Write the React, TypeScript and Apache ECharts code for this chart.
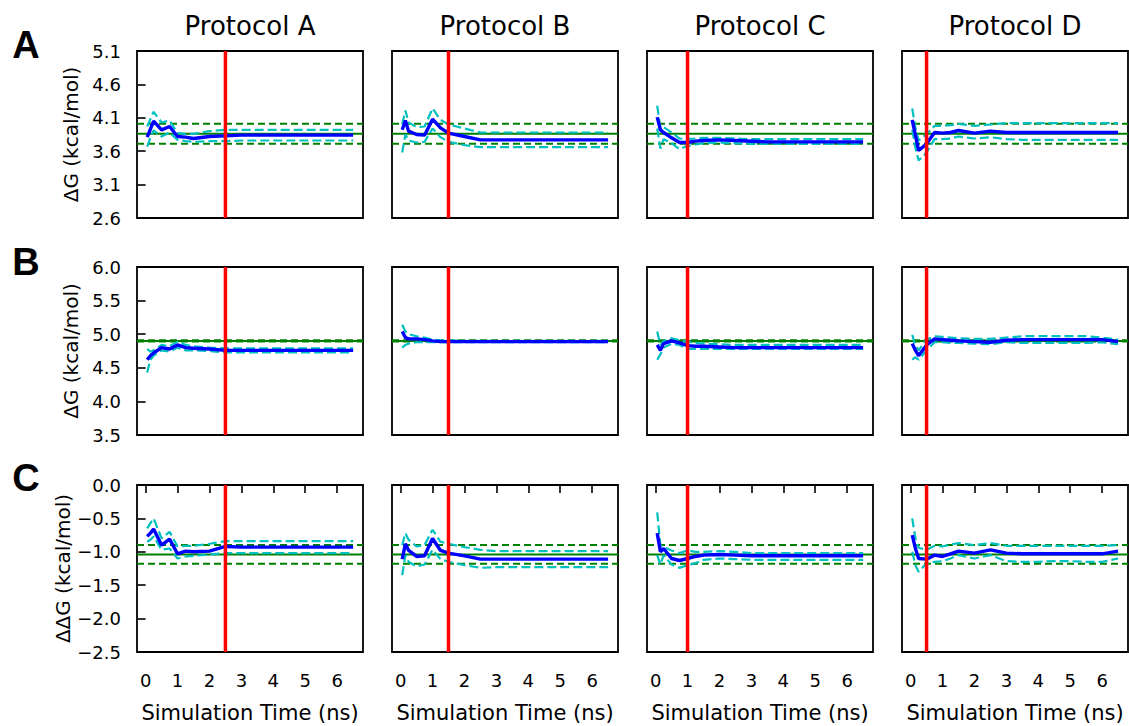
import React, { useEffect, useRef } from "react";
import * as echarts from "echarts";

// ---------- data ----------
const times = [0.05, 0.15, 0.25, 0.5, 0.75, 1.0, 1.25, 1.5, 2.0, 2.5, 3.0, 3.5, 4.0, 4.5, 5.0, 5.5, 6.0, 6.5];
const protocols = ["Protocol A", "Protocol B", "Protocol C", "Protocol D"];
const cutoffs = [2.5, 1.5, 1.0, 0.5];
const rowLetters = ["A", "B", "C"];
const rowYLabels = ["ΔG (kcal/mol)", "ΔG (kcal/mol)", "ΔΔG (kcal/mol)"];
const yTicksA = [2.6, 3.1, 3.6, 4.1, 4.6, 5.1];
const yTicksB = [3.5, 4.0, 4.5, 5.0, 5.5, 6.0];
const yTicksC = [-2.5, -2.0, -1.5, -1.0, -0.5, 0.0];
const xTicks = [0, 1, 2, 3, 4, 5, 6];
const exptValues = [3.86, 4.9, -1.04];
const exptErrors = [0.15, 0.01, 0.14];

// Row A (ΔG, first ligand)
const meanA1 = [3.81, 3.93, 4.05, 3.92, 3.97, 3.82, 3.81, 3.79, 3.82, 3.83, 3.84, 3.84, 3.84, 3.84, 3.84, 3.84, 3.84, 3.84];
const upA1 = [3.97, 4.08, 4.19, 4.03, 4.06, 3.87, 3.86, 3.86, 3.90, 3.92, 3.92, 3.92, 3.92, 3.92, 3.92, 3.92, 3.92, 3.92];
const loA1 = [3.67, 3.80, 3.91, 3.82, 3.88, 3.77, 3.75, 3.74, 3.75, 3.75, 3.76, 3.76, 3.76, 3.76, 3.76, 3.76, 3.76, 3.76];
const meanA2 = [3.92, 4.06, 3.90, 3.85, 3.84, 4.08, 3.95, 3.87, 3.82, 3.77, 3.77, 3.77, 3.77, 3.77, 3.77, 3.77, 3.77, 3.77];
const upA2 = [4.00, 4.21, 4.03, 3.96, 3.97, 4.24, 4.07, 4.00, 3.94, 3.88, 3.88, 3.88, 3.88, 3.88, 3.88, 3.88, 3.88, 3.88];
const loA2 = [3.58, 3.85, 3.76, 3.73, 3.74, 3.94, 3.81, 3.74, 3.69, 3.66, 3.66, 3.66, 3.66, 3.66, 3.66, 3.66, 3.66, 3.66];
const meanA3 = [4.11, 3.92, 3.88, 3.80, 3.73, 3.73, 3.75, 3.76, 3.77, 3.76, 3.75, 3.74, 3.74, 3.74, 3.74, 3.74, 3.74, 3.74];
const upA3 = [4.28, 3.95, 3.96, 3.88, 3.79, 3.78, 3.79, 3.80, 3.80, 3.79, 3.78, 3.78, 3.78, 3.78, 3.78, 3.78, 3.78, 3.78];
const loA3 = [3.94, 3.64, 3.78, 3.72, 3.63, 3.68, 3.70, 3.72, 3.73, 3.72, 3.71, 3.71, 3.71, 3.71, 3.71, 3.71, 3.71, 3.71];
const meanA4 = [4.07, 3.84, 3.61, 3.71, 3.88, 3.87, 3.88, 3.91, 3.87, 3.90, 3.88, 3.88, 3.88, 3.88, 3.88, 3.88, 3.88, 3.88];
const upA4 = [4.24, 3.95, 3.76, 3.85, 3.98, 3.98, 3.99, 4.01, 3.98, 4.00, 4.02, 4.02, 4.02, 4.02, 4.02, 4.02, 4.02, 4.02];
const loA4 = [3.92, 3.65, 3.46, 3.58, 3.78, 3.78, 3.79, 3.82, 3.79, 3.81, 3.78, 3.77, 3.77, 3.77, 3.77, 3.77, 3.77, 3.77];

// Row B (ΔG, second ligand)
const meanB1 = [4.62, 4.68, 4.72, 4.80, 4.78, 4.84, 4.80, 4.79, 4.78, 4.76, 4.76, 4.76, 4.76, 4.76, 4.76, 4.76, 4.76, 4.76];
const upB1 = [4.78, 4.74, 4.76, 4.84, 4.82, 4.89, 4.84, 4.82, 4.80, 4.79, 4.79, 4.79, 4.79, 4.79, 4.79, 4.79, 4.79, 4.79];
const loB1 = [4.43, 4.62, 4.68, 4.76, 4.74, 4.80, 4.76, 4.76, 4.75, 4.73, 4.73, 4.73, 4.73, 4.73, 4.73, 4.73, 4.73, 4.73];
const meanB2 = [5.04, 4.95, 4.93, 4.93, 4.92, 4.90, 4.89, 4.89, 4.89, 4.89, 4.89, 4.89, 4.89, 4.89, 4.89, 4.89, 4.89, 4.89];
const upB2 = [5.14, 5.04, 5.00, 4.97, 4.95, 4.92, 4.91, 4.91, 4.90, 4.90, 4.90, 4.90, 4.90, 4.90, 4.90, 4.90, 4.90, 4.90];
const loB2 = [4.80, 4.84, 4.86, 4.88, 4.88, 4.88, 4.88, 4.88, 4.88, 4.88, 4.88, 4.88, 4.88, 4.88, 4.88, 4.88, 4.88, 4.88];
const meanB3 = [4.84, 4.76, 4.86, 4.90, 4.87, 4.83, 4.82, 4.82, 4.81, 4.80, 4.80, 4.80, 4.80, 4.80, 4.80, 4.80, 4.80, 4.80];
const upB3 = [5.04, 4.84, 4.90, 4.94, 4.91, 4.89, 4.87, 4.86, 4.85, 4.84, 4.84, 4.84, 4.84, 4.84, 4.84, 4.84, 4.84, 4.84];
const loB3 = [4.62, 4.70, 4.80, 4.86, 4.84, 4.78, 4.78, 4.78, 4.78, 4.78, 4.78, 4.78, 4.78, 4.78, 4.78, 4.78, 4.78, 4.78];
const meanB4 = [4.86, 4.76, 4.68, 4.84, 4.93, 4.92, 4.91, 4.90, 4.89, 4.88, 4.91, 4.92, 4.92, 4.92, 4.92, 4.92, 4.92, 4.89];
const upB4 = [4.99, 4.84, 4.76, 4.92, 4.97, 4.96, 4.95, 4.94, 4.93, 4.93, 4.95, 4.97, 4.97, 4.97, 4.97, 4.97, 4.95, 4.92];
const loB4 = [4.62, 4.66, 4.62, 4.76, 4.88, 4.88, 4.87, 4.87, 4.86, 4.85, 4.88, 4.87, 4.87, 4.87, 4.87, 4.87, 4.88, 4.85];

// Row C (ΔΔG)
const meanC1 = [-0.77, -0.72, -0.66, -0.90, -0.81, -1.03, -0.99, -1.00, -0.99, -0.92, -0.93, -0.93, -0.93, -0.93, -0.93, -0.93, -0.93, -0.93];
const upC1 = [-0.65, -0.57, -0.50, -0.80, -0.70, -0.92, -0.91, -0.91, -0.88, -0.84, -0.84, -0.84, -0.84, -0.84, -0.84, -0.84, -0.84, -0.84];
const loC1 = [-0.85, -0.82, -0.77, -0.97, -0.95, -1.10, -1.07, -1.06, -1.04, -1.02, -1.02, -1.02, -1.02, -1.02, -1.02, -1.02, -1.02, -1.02];
const meanC2 = [-1.11, -0.88, -0.98, -1.07, -1.06, -0.80, -0.98, -1.02, -1.06, -1.11, -1.11, -1.11, -1.11, -1.11, -1.11, -1.11, -1.11, -1.11];
const upC2 = [-0.90, -0.72, -0.82, -0.92, -0.90, -0.67, -0.85, -0.88, -0.93, -0.97, -0.99, -0.99, -0.99, -0.99, -0.99, -0.99, -0.99, -0.99];
const loC2 = [-1.35, -1.05, -1.15, -1.22, -1.19, -0.97, -1.11, -1.15, -1.20, -1.24, -1.23, -1.23, -1.23, -1.23, -1.23, -1.23, -1.23, -1.23];
const meanC3 = [-0.72, -1.00, -0.95, -1.10, -1.13, -1.10, -1.07, -1.05, -1.04, -1.05, -1.06, -1.06, -1.06, -1.06, -1.06, -1.06, -1.06, -1.06];
const upC3 = [-0.41, -0.90, -0.93, -0.98, -1.02, -0.98, -1.00, -1.00, -0.99, -1.00, -1.02, -1.02, -1.02, -1.02, -1.02, -1.02, -1.02, -1.02];
const loC3 = [-1.05, -1.19, -1.05, -1.19, -1.24, -1.20, -1.17, -1.12, -1.10, -1.11, -1.12, -1.12, -1.12, -1.12, -1.12, -1.12, -1.12, -1.12];
const meanC4 = [-0.75, -0.95, -1.10, -1.11, -1.05, -1.07, -1.03, -0.99, -1.02, -0.97, -1.02, -1.03, -1.03, -1.03, -1.03, -1.03, -1.03, -0.99];
const upC4 = [-0.50, -0.80, -0.94, -0.97, -0.91, -0.92, -0.89, -0.87, -0.90, -0.87, -0.91, -0.91, -0.91, -0.91, -0.91, -0.91, -0.91, -0.90];
const loC4 = [-1.00, -1.20, -1.30, -1.17, -1.15, -1.14, -1.10, -1.05, -1.10, -1.05, -1.14, -1.15, -1.15, -1.14, -1.14, -1.15, -1.15, -1.10];

const panelData = [
  [[meanA1, upA1, loA1], [meanA2, upA2, loA2], [meanA3, upA3, loA3], [meanA4, upA4, loA4]],
  [[meanB1, upB1, loB1], [meanB2, upB2, loB2], [meanB3, upB3, loB3], [meanB4, upB4, loB4]],
  [[meanC1, upC1, loC1], [meanC2, upC2, loC2], [meanC3, upC3, loC3], [meanC4, upC4, loC4]],
];
const rowTicks = [yTicksA, yTicksB, yTicksC];

// ---------- layout ----------
const X_MIN = -0.27;
const X_MAX = 6.81;
const colLeft = [137, 392, 647, 902];
const colWidth = 226;
const rowTop = [51, 267, 485];
const rowHeight = [167, 168, 167];
const FONT = "DejaVu Sans";

const fmt = (v: number) => {
  const s = Math.abs(v).toFixed(1);
  return v < -1e-9 ? "\u2212" + s : s;
};

function buildOption() {
  const grid: any[] = [];
  const xAxis: any[] = [];
  const yAxis: any[] = [];
  const series: any[] = [];
  const graphic: any[] = [];

  for (let r = 0; r < 3; r++) {
    const ticks = rowTicks[r];
    const yMin = ticks[0];
    const yMax = ticks[ticks.length - 1];
    for (let c = 0; c < 4; c++) {
      const idx = r * 4 + c;
      grid.push({
        left: colLeft[c],
        top: rowTop[r],
        width: colWidth,
        height: rowHeight[r],
        show: true,
        borderColor: "#000",
        borderWidth: 1.8,
        backgroundColor: "transparent",
        containLabel: false,
      });
      const bottom = r === 2;
      xAxis.push({
        gridIndex: idx,
        type: "value",
        min: X_MIN,
        max: X_MAX,
        axisLine: { show: false },
        splitLine: { show: false },
        axisTick: {
          show: bottom,
          customValues: xTicks,
          length: 8,
          lineStyle: { color: "#000", width: 1.6 },
        },
        axisLabel: {
          show: bottom,
          customValues: xTicks,
          color: "#000",
          fontFamily: FONT,
          fontSize: 18,
          margin: 19,
          formatter: (v: number) => String(Math.round(v)),
        },
        name: bottom ? "Simulation Time (ns)" : "",
        nameLocation: "middle",
        nameGap: 50,
        nameTextStyle: { color: "#000", fontFamily: FONT, fontSize: 21 },
      });
      const first = c === 0;
      yAxis.push({
        gridIndex: idx,
        type: "value",
        min: yMin,
        max: yMax,
        axisLine: { show: false },
        splitLine: { show: false },
        axisTick: {
          show: first,
          customValues: ticks,
          length: 8,
          lineStyle: { color: "#000", width: 1.6 },
        },
        axisLabel: {
          show: first,
          customValues: ticks,
          color: "#000",
          fontFamily: FONT,
          fontSize: 18,
          margin: 16,
          formatter: fmt,
        },
        name: first ? rowYLabels[r] : "",
        nameLocation: "middle",
        nameGap: 56,
        nameTextStyle: { color: "#000", fontFamily: FONT, fontSize: 20 },
      });

      const e = exptValues[r];
      const err = exptErrors[r];
      const base = { type: "line", xAxisIndex: idx, yAxisIndex: idx, symbol: "none", silent: true, animation: false };
      series.push({ ...base, z: 2, data: [[X_MIN, e], [X_MAX, e]], lineStyle: { color: "#008000", width: 2 } });
      series.push({ ...base, z: 2, data: [[X_MIN, e + err], [X_MAX, e + err]], lineStyle: { color: "#008000", width: 2, type: [7, 4] } });
      series.push({ ...base, z: 2, data: [[X_MIN, e - err], [X_MAX, e - err]], lineStyle: { color: "#008000", width: 2, type: [7, 4] } });

      const [mean, up, lo] = panelData[r][c];
      series.push({ ...base, z: 3, data: times.map((t, i) => [t, up[i]]), lineStyle: { color: "#00bfbf", width: 2.2, type: [9, 4] } });
      series.push({ ...base, z: 3, data: times.map((t, i) => [t, lo[i]]), lineStyle: { color: "#00bfbf", width: 2.2, type: [9, 4] } });
      series.push({ ...base, z: 4, data: times.map((t, i) => [t, mean[i]]), lineStyle: { color: "#0000ff", width: 3.4 } });

      series.push({ ...base, z: 5, data: [[cutoffs[c], yMin], [cutoffs[c], yMax]], lineStyle: { color: "#ff0000", width: 3.5 } });
    }
  }

  for (let c = 0; c < 4; c++) {
    graphic.push({
      type: "text",
      x: colLeft[c] + colWidth / 2,
      y: 26,
      style: { text: protocols[c], fill: "#000", font: `26px "${FONT}"`, textAlign: "center", textVerticalAlign: "middle" },
    });
  }
  const letterY = [45, 262, 478];
  for (let r = 0; r < 3; r++) {
    graphic.push({
      type: "text",
      x: 26,
      y: letterY[r],
      style: { text: rowLetters[r], fill: "#000", font: `bold 38px "Liberation Sans"`, textAlign: "center", textVerticalAlign: "middle" },
    });
  }

  return { animation: false, backgroundColor: "#fff", grid, xAxis, yAxis, series, graphic };
}

export default function App() {
  const ref = useRef<HTMLDivElement>(null);
  useEffect(() => {
    document.body.style.margin = "0";
    if (!ref.current) return;
    const chart = echarts.init(ref.current, undefined, { renderer: "svg" });
    chart.setOption(buildOption() as any);
    return () => chart.dispose();
  }, []);
  return <div ref={ref} style={{ position: "absolute", left: 0, top: 0, width: 1129, height: 726 }} />;
}
